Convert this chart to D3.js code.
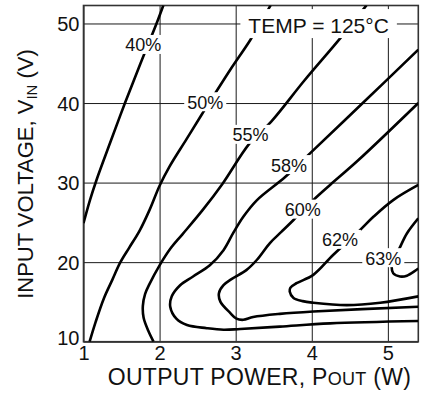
<!DOCTYPE html>
<html>
<head>
<meta charset="utf-8">
<script src="https://cdn.jsdelivr.net/npm/d3@7"></script>
<style>
  body { margin: 0; background: #fff; }
  svg { display: block; font-family: "Liberation Sans", Arial, Helvetica, sans-serif; }
</style>
</head>
<body>
<div id="chart"></div>
<script>
// tick values
const xTicks = [1, 2, 3, 4, 5];
const yTicks = [10, 20, 30, 40, 50];

// efficiency contours, each point is [P_OUT (W), V_IN (V)]
const eff40 = [[1.0,24.9],[1.085,27.8],[1.17,30.3],[1.35,35],[1.545,40],[1.75,45],[1.96,50],[2.05,52.3]];
const eff50 = [[1.08,10],[1.16,12.5],[1.27,15.5],[1.38,17.8],[1.48,19.9],[1.6,21.8],[1.74,24],[1.87,26.6],[2.0,29.6],
  [2.13,32],[2.35,35.4],[2.55,38.5],[2.65,40],[2.95,44.5],[3.19,47.9],[3.46,52.3]];
const eff55 = [[1.92,10],[1.85,11.4],[1.79,13],[1.78,14.5],[1.81,16],[1.87,17.3],[2.0,19.6],[2.15,21.8],[2.3,23.5],
  [2.57,26.6],[2.83,29.9],[3.18,34.9],[3.47,37.7],[3.9,42.8],[4.37,48.1],[4.72,52.3]];
const eff58 = [[5.4,46.7],[4.67,40],[3.98,33.7],[3.65,30.7],[3.28,27.8],[3.1,25.7],[2.97,23.7],[2.84,21.5],[2.66,19.6],
  [2.44,18.2],[2.27,17.1],[2.16,15.7],[2.14,14.4],[2.22,12.9],[2.36,12.1],[2.62,11.7],[2.84,11.5],[3.06,11.6],
  [3.58,11.9],[4.24,12.3],[5.4,12.6]];
const eff60 = [[5.4,40],[4.61,32.8],[4.24,29.7],[4.02,27.8],[3.76,25.3],[3.6,23.8],[3.45,22.4],[3.28,20.3],[3.14,19.0],
  [2.95,17.9],[2.84,17.1],[2.78,16.1],[2.8,15.0],[2.93,13.6],[3.01,12.9],[3.1,12.75],[3.23,13.1],[3.58,13.5],
  [4.02,13.8],[5.4,14.4]];
const eff62 = [[5.4,29.7],[5.07,27.8],[4.81,25.7],[4.63,24.0],[4.28,20.9],[4.02,18.4],[3.8,17.35],[3.72,16.8],
  [3.71,16.3],[3.76,15.5],[3.88,15.1],[4.02,14.9],[4.46,14.6],[4.9,14.9],[5.4,15.7]];
const eff63 = [[5.4,25.5],[5.25,23.6],[5.14,21.5],[5.07,20.3],[5.05,19.4],[5.07,18.6],[5.16,18.2],[5.25,18.3],[5.4,19.2]];

const levels = ["40%", "50%", "55%", "58%", "60%", "62%", "63%"];
// where each level's label sits on its curve, [P_OUT, V_IN]
const labelAt = [[1.785,47.3],[2.6,40.1],[3.195,36.0],[3.7,32.2],[3.88,26.6],[4.37,22.8],[4.94,20.5]];

const tempNote = "TEMP = 125°C";
const tempAt = [4.09, 49.8];

const contours = [eff40, eff50, eff55, eff58, eff60, eff62, eff63];

// layout
const width = 425, height = 393;
const margin = {top: 5.5, right: 6.7, bottom: 51.3, left: 83.5};
const plotW = width - margin.left - margin.right;
const plotH = height - margin.top - margin.bottom;

const svg = d3.select("#chart")
  .append("svg")
  .attr("width", width)
  .attr("height", height);

const x = d3.scaleLinear().domain([1, 5.4]).range([margin.left, margin.left + plotW]);
const y = d3.scaleLinear().domain([10, 52.26]).range([margin.top + plotH, margin.top]);

svg.append("clipPath").attr("id", "plotclip")
  .append("rect")
  .attr("x", margin.left).attr("y", margin.top)
  .attr("width", plotW).attr("height", plotH);

// grid
svg.append("g")
  .attr("transform", "translate(0," + (margin.top + plotH) + ")")
  .call(d3.axisBottom(x).tickValues(xTicks).tickSize(-plotH).tickFormat(""))
  .call(g => g.select(".domain").remove())
  .selectAll("line").attr("stroke", "#1a1a1a").attr("stroke-width", 1);

svg.append("g")
  .attr("transform", "translate(" + margin.left + ",0)")
  .call(d3.axisLeft(y).tickValues(yTicks).tickSize(-plotW).tickFormat(""))
  .call(g => g.select(".domain").remove())
  .selectAll("line").attr("stroke", "#1a1a1a").attr("stroke-width", 1);

// frame
svg.append("rect")
  .attr("x", margin.left).attr("y", margin.top)
  .attr("width", plotW).attr("height", plotH)
  .attr("fill", "none")
  .attr("stroke", "#333")
  .attr("stroke-width", 1.6);

// tick labels
const xAxis = svg.append("g")
  .attr("transform", "translate(0," + (margin.top + plotH) + ")")
  .call(d3.axisBottom(x).tickValues(xTicks).tickSize(0).tickPadding(4.5).tickFormat(d3.format("d")));
xAxis.select(".domain").remove();
xAxis.selectAll("text").attr("font-size", 20).attr("font-family", null).attr("fill", "#111");

const yAxis = svg.append("g")
  .attr("transform", "translate(" + margin.left + ",0)")
  .call(d3.axisLeft(y).tickValues(yTicks).tickSize(0).tickPadding(4).tickFormat(d3.format("d")));
yAxis.select(".domain").remove();
yAxis.selectAll("text").attr("font-size", 20).attr("font-family", null).attr("fill", "#111")
  .attr("dy", d => d === 10 ? "0.15em" : "0.35em");

// contour lines
const line = d3.line()
  .x(d => x(d[0]))
  .y(d => y(d[1]))
  .curve(d3.curveCatmullRom.alpha(0.5));

svg.append("g")
  .attr("clip-path", "url(#plotclip)")
  .selectAll("path")
  .data(contours)
  .enter()
  .append("path")
  .attr("d", line)
  .attr("fill", "none")
  .attr("stroke", "#000")
  .attr("stroke-width", 2.6)
  .attr("stroke-linejoin", "round");

// contour labels, white box breaks the line underneath
function addLabel(txt, pos, size, padX, padTop, padBottom) {
  const g = svg.append("g");
  const box = g.append("rect").attr("fill", "#fff");
  const t = g.append("text")
    .attr("x", x(pos[0]))
    .attr("y", y(pos[1]))
    .attr("dy", "0.36em")
    .attr("text-anchor", "middle")
    .attr("font-size", size)
    .attr("fill", "#111")
    .text(txt);
  const bb = t.node().getBBox();
  const cy = y(pos[1]);
  box.attr("x", bb.x - padX)
    .attr("width", bb.width + 2 * padX)
    .attr("y", cy - padTop)
    .attr("height", padTop + padBottom);
}

levels.forEach((lv, i) => addLabel(lv, labelAt[i], 18, 3, 10, 9));
addLabel(tempNote, tempAt, 21, 8, 16, 13);

// axis titles
svg.append("text")
  .attr("x", 259.5)
  .attr("y", 385)
  .attr("text-anchor", "middle")
  .attr("font-size", 23)
  .attr("letter-spacing", 0.3)
  .attr("fill", "#111")
  .call(t => {
    t.append("tspan").text("OUTPUT POWER, P");
    t.append("tspan").attr("font-size", 18).text("OUT");
    t.append("tspan").text(" (W)");
  });

svg.append("text")
  .attr("transform", "translate(33,174) rotate(-90)")
  .attr("text-anchor", "middle")
  .attr("font-size", 22)
  .attr("fill", "#111")
  .call(t => {
    t.append("tspan").text("INPUT VOLTAGE, V");
    t.append("tspan").attr("font-size", 15).attr("dy", 3.5).text("IN");
    t.append("tspan").attr("dy", -3.5).text(" (V)");
  });
</script>
</body>
</html>
